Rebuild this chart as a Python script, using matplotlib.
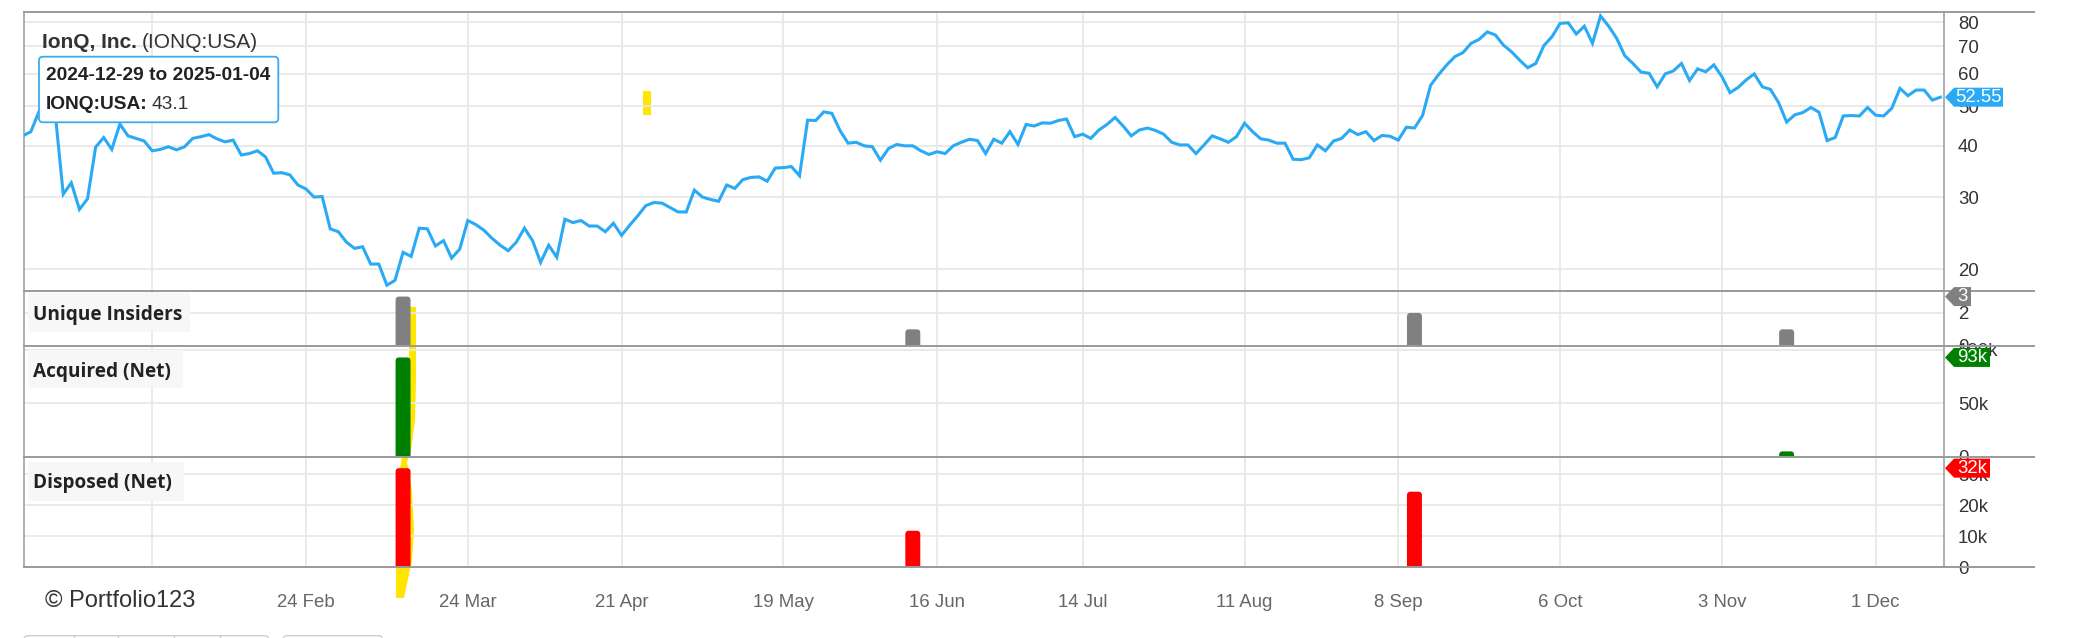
import matplotlib
matplotlib.use("Agg")
import matplotlib.pyplot as plt
import pandas as pd
from matplotlib.lines import Line2D
from matplotlib.patches import FancyBboxPatch, Polygon
from matplotlib.ticker import FixedFormatter, FixedLocator, NullLocator
from matplotlib.transforms import IdentityTransform

plt.rcParams["font.family"] = ["Liberation Sans", "DejaVu Sans"]

W, H = 2094, 638

# trading days shown on the axis (market holidays removed)
holidays = ["2025-01-01", "2025-01-09", "2025-01-20", "2025-02-17", "2025-04-18",
            "2025-05-26", "2025-06-19", "2025-07-04", "2025-09-01", "2025-11-27"]
days = pd.bdate_range("2024-12-31", "2025-12-11")
days = days[~days.isin(pd.to_datetime(holidays))]

close = [
    42.3, 43.3, 48.5, 51.0, 48.1, 30.5, 32.5, 28.0, 29.7, 39.7,
    41.9, 39.2, 45.2, 42.3, 41.7, 41.1, 38.9, 39.2, 39.8, 39.1,
    39.8, 41.7, 42.1, 42.6, 41.6, 40.9, 41.3, 38.0, 38.3, 38.9,
    37.6, 34.3, 34.4, 34.0, 32.1, 31.4, 30.0, 30.1, 25.1, 24.7,
    23.3, 22.5, 22.7, 20.6, 20.6, 18.3, 18.8, 22.0, 21.5, 25.2,
    25.1, 22.8, 23.5, 21.3, 22.4, 26.3, 25.7, 24.9, 23.8, 22.9,
    22.2, 23.3, 25.2, 23.5, 20.8, 22.9, 21.4, 26.5, 26.0, 26.3,
    25.5, 25.5, 24.7, 25.9, 24.2, 25.6, 27.0, 28.6, 29.1, 29.0,
    28.3, 27.6, 27.6, 31.2, 30.0, 29.6, 29.3, 32.1, 31.5, 33.1,
    33.5, 33.6, 32.8, 35.3, 35.4, 35.6, 33.8, 46.2, 46.1, 48.4,
    48.0, 43.6, 40.6, 40.8, 40.0, 39.8, 36.9, 39.4, 40.3, 40.0,
    40.0, 38.9, 38.1, 38.7, 38.3, 40.0, 40.8, 41.5, 41.2, 38.3,
    41.5, 40.6, 43.3, 40.3, 45.1, 44.7, 45.5, 45.4, 46.1, 46.5,
    42.1, 42.7, 41.7, 43.7, 45.1, 46.9, 44.7, 42.3, 43.7, 44.2,
    43.6, 42.7, 40.8, 40.2, 40.2, 38.3, 40.2, 42.3, 41.6, 40.8,
    42.1, 45.4, 43.3, 41.6, 41.3, 40.6, 40.6, 37.1, 37.0, 37.4,
    40.2, 38.9, 41.1, 41.7, 43.7, 42.6, 43.3, 41.2, 42.4, 42.2,
    41.3, 44.4, 44.2, 47.4, 56.2, 59.7, 63.0, 66.0, 67.5, 71.1,
    72.7, 75.8, 74.5, 70.4, 67.8, 64.7, 62.0, 63.5, 70.2, 73.8,
    79.5, 79.8, 74.9, 78.3, 71.1, 82.9, 78.3, 73.1, 66.3, 63.5,
    60.5, 60.1, 55.7, 59.9, 60.9, 63.5, 57.7, 61.6, 60.6, 63.0,
    59.0, 53.9, 55.5, 57.9, 59.9, 55.7, 54.9, 51.0, 45.7, 47.6,
    48.2, 49.6, 48.3, 41.2, 41.9, 47.3, 47.4, 47.3, 49.6, 47.5,
    47.3, 49.4, 55.2, 53.0, 54.7, 54.7, 51.7, 52.55,
]

insider_dates = ["2025-03-12", "2025-06-11", "2025-09-10", "2025-11-13"]
unique_insiders = [3, 1, 2, 1]
acquired = [93000, 0, 0, 5000]
disposed = [32000, 11800, 24400, 0]

tick_dates = ["2025-01-27", "2025-02-24", "2025-03-24", "2025-04-21", "2025-05-19",
              "2025-06-16", "2025-07-14", "2025-08-11", "2025-09-08", "2025-10-06",
              "2025-11-03", "2025-12-01"]
tick_labels = ["", "24 Feb", "24 Mar", "21 Apr", "19 May", "16 Jun", "14 Jul",
               "11 Aug", "8 Sep", "6 Oct", "3 Nov", "1 Dec"]

price_ticks = [20, 30, 40, 50, 60, 70, 80]

BLUE = "#2aaaf5"
FRAME = "#9a9a9a"
GRID = "#e8e8e8"
ID = IdentityTransform()


def day_pos(d):
    return days.get_loc(pd.Timestamp(d))


def px(x, y):
    # reference pixel coords (top-left origin) -> display coords
    return x, H - y


fig = plt.figure(figsize=(W / 100, H / 100), dpi=100)
fig.patch.set_facecolor("white")

bands = [(11.5, 290.5), (290.5, 345.7), (345.7, 456.7), (456.7, 567.3)]
axes = []
for top, bot in bands:
    ax = fig.add_axes([24 / W, 1 - bot / H, (1944 - 24) / W, (bot - top) / H])
    ax.set_facecolor("none")
    axes.append(ax)
ax_p, ax_u, ax_a, ax_d = axes

xt = [day_pos(d) for d in tick_dates]
for ax in axes:
    ax.set_xlim(0.15, 237.45)
    ax.xaxis.set_major_locator(FixedLocator(xt))
    ax.xaxis.set_major_formatter(FixedFormatter(tick_labels))
    ax.grid(True, color=GRID, lw=1.3, zorder=0)
    ax.set_axisbelow(True)
    ax.yaxis.tick_right()
    ax.tick_params(axis="y", length=0, pad=10, labelsize=13.4, labelcolor="#333333")
    ax.tick_params(axis="x", length=0, pad=19, labelsize=13.4, labelcolor="#666666",
                   labelbottom=(ax is ax_d))
    for s in ("top", "bottom"):
        ax.spines[s].set_visible(False)
    for s in ("left", "right"):
        ax.spines[s].set_color(FRAME)
        ax.spines[s].set_linewidth(1.1)

# price panel
ax_p.set_yscale("log")
ax_p.set_ylim(17.76, 85.0)
ax_p.yaxis.set_major_locator(FixedLocator(price_ticks))
ax_p.yaxis.set_major_formatter(FixedFormatter([str(v) for v in price_ticks]))
ax_p.yaxis.set_minor_locator(NullLocator())
ax_p.plot(range(len(close)), close, color=BLUE, lw=2.2, zorder=3,
          solid_joinstyle="miter")

ax_u.set_ylim(0, 3.37)
ax_u.set_yticks([0, 2], ["0", "2"])
ax_a.set_ylim(0, 104000)
ax_a.set_yticks([0, 50000, 100000], ["0", "50k", "100k"])
ax_d.set_ylim(0, 35700)
ax_d.set_yticks([0, 10000, 20000, 30000], ["0", "10k", "20k", "30k"])


def round_bar(ax, x, h, color, width=1.85, r_px=3.5):
    if h <= 0:
        return
    bb = ax.get_position()
    x0, x1 = ax.get_xlim()
    y0, y1 = ax.get_ylim()
    ppx = bb.width * W / (x1 - x0)
    ppy = bb.height * H / (y1 - y0)
    ry = r_px / ppy
    ax.add_patch(FancyBboxPatch(
        (x - width / 2, -ry), width, h + ry,
        boxstyle=f"round,pad=0,rounding_size={r_px / ppx}",
        mutation_aspect=ppx / ppy, fc=color, ec="none", zorder=3))


for d, u, a, s in zip(insider_dates, unique_insiders, acquired, disposed):
    i = day_pos(d)
    round_bar(ax_u, i, u, "#808080")
    round_bar(ax_a, i, a, "#008000")
    round_bar(ax_d, i, s, "#ff0000")

# frame lines across the panels
for y in (11.5, 290.5, 345.7, 456.7, 567.3):
    fig.add_artist(Line2D([24, 2034], [H - y, H - y], transform=ID,
                          color=FRAME, lw=1.4, zorder=2))

# yellow marker strokes
fig.add_artist(Polygon([px(643, 91), px(651, 91), px(651, 115), px(643, 115)],
                       transform=ID, fc="#ffe600", ec="none", zorder=-1))
stroke = [(409, 307), (416, 307), (416, 380), (415, 420), (411, 450), (407, 462),
          (412, 490), (414, 530), (412, 560), (404, 598), (396, 598), (396, 560),
          (400, 470), (402, 456), (404, 420), (409, 380)]
fig.add_artist(Polygon([px(x, y) for x, y in stroke], transform=ID,
                       fc="#ffe600", ec="none", zorder=-1))


def value_tag(ax, val, text, color, w):
    xr, yv = ax.transData.transform((ax.get_xlim()[1], val))
    xr += 1
    pts = [(xr, yv), (xr + 9, yv + 9.5), (xr + w, yv + 9.5),
           (xr + w, yv - 9.5), (xr + 9, yv - 9.5)]
    fig.add_artist(Polygon(pts, transform=ID, fc=color, ec="none", zorder=6))
    fig.text(xr + 9 + (w - 9) / 2, yv, text, transform=ID, ha="center",
             va="center", color="white", fontsize=13.4, zorder=7)


value_tag(ax_p, close[-1], f"{close[-1]:.2f}", BLUE, 58)
value_tag(ax_u, max(unique_insiders), str(max(unique_insiders)), "#808080", 26)
value_tag(ax_a, max(acquired), f"{max(acquired) // 1000}k", "#008000", 45)
value_tag(ax_d, max(disposed), f"{max(disposed) // 1000}k", "#ff0000", 45)

rend = fig.canvas.get_renderer()

# title
t = fig.text(*px(41.7, 47.7), "IonQ, Inc.", transform=ID, fontsize=15,
             fontweight="bold", color="#333333", va="baseline", zorder=6)
bb = t.get_window_extent(rend)
fig.text(bb.x1 + 5, H - 47.7, "(IONQ:USA)", transform=ID, fontsize=15,
         color="#333333", va="baseline", zorder=6)

# tooltip
tx, ty = px(39, 122.3)
fig.add_artist(FancyBboxPatch((tx, ty), 239.3, 65.6, transform=ID,
                              boxstyle="round,pad=0,rounding_size=4",
                              fc="white", ec="#3daaf0", lw=1.3, zorder=5))
fig.text(*px(46, 80), "2024-12-29 to 2025-01-04", transform=ID, fontsize=13.8,
         fontweight="bold", color="#222222", va="baseline", zorder=6)
t = fig.text(*px(46, 109.3), "IONQ:USA:", transform=ID, fontsize=13.8,
             fontweight="bold", color="#222222", va="baseline", zorder=6)
bb = t.get_window_extent(rend)
fig.text(bb.x1 + 4, H - 109.3, "43.1", transform=ID, fontsize=13.8,
         color="#333333", va="baseline", zorder=6)

# panel labels
panel_labels = [("Unique Insiders", 293, 331.7, 320, 190),
                ("Acquired (Net)", 350, 388.3, 376.7, 183),
                ("Disposed (Net)", 461.7, 500.7, 488.3, 184)]
for text, top, bot, base, right in panel_labels:
    x0, y0 = px(28, bot)
    fig.add_artist(FancyBboxPatch((x0, y0), right - 28, bot - top, transform=ID,
                                  boxstyle="square,pad=0", fc="#f7f7f7",
                                  ec="none", zorder=4))
    fig.text(*px(32.6, base), text, transform=ID, fontsize=13.7,
             family=["Open Sans", "DejaVu Sans"], fontweight="bold",
             color="#222222", va="baseline", zorder=5)

fig.text(*px(44.6, 606.7), "\u00a9 Portfolio123", transform=ID, fontsize=17,
         color="#333333", va="baseline", zorder=5)

# button strip at the very bottom
for x0, x1 in ((24, 268.7), (283, 382.6)):
    bx, by = px(x0, 650)
    fig.add_artist(FancyBboxPatch((bx, by), x1 - x0, 14.3, transform=ID,
                                  boxstyle="round,pad=0,rounding_size=4",
                                  fc="white", ec="#cfcfcf", lw=1.0, zorder=4))
for x in (73.7, 118.3, 174, 219.6):
    fig.add_artist(Line2D([x, x], [0, H - 635.7], transform=ID,
                          color="#cfcfcf", lw=1.0, zorder=4))

fig.savefig("out.png", dpi=100)
